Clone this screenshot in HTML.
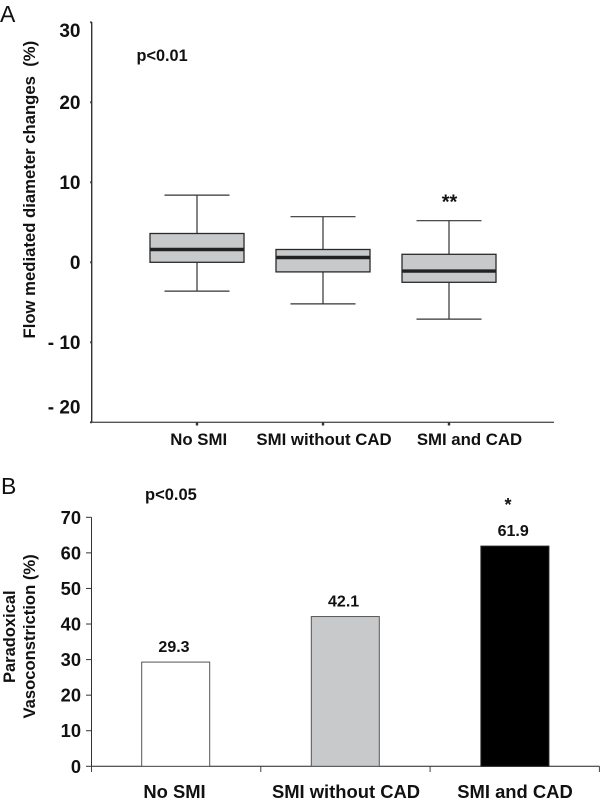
<!DOCTYPE html>
<html>
<head>
<meta charset="utf-8">
<style>
html,body{margin:0;padding:0;background:#fff;}
svg{display:block;}
text{font-family:"Liberation Sans",Arial,sans-serif;fill:#111;}
.b{font-weight:bold;}
</style>
</head>
<body>
<svg id="chart" xmlns="http://www.w3.org/2000/svg" width="600" height="803" viewBox="0 0 600 803"></svg>
<script>
// Panel A data
const boxCategories = ["No SMI", "SMI without CAD", "SMI and CAD"];
const boxWhiskerHigh = [8.4, 5.7, 5.2];
const boxQ3 = [3.6, 1.6, 1.0];
const boxMedian = [1.6, 0.6, -1.1];
const boxQ1 = [0, -1.2, -2.5];
const boxWhiskerLow = [-3.6, -5.2, -7.1];
const boxTicks = [30, 20, 10, 0, -10, -20];
const boxTickLabels = ["30", "20", "10", "0", "- 10", "- 20"];
// Panel B data
const barCategories = ["No SMI", "SMI without CAD", "SMI and CAD"];
const barValues = [29.3, 42.1, 61.9];
const barLabels = ["29.3", "42.1", "61.9"];
const barTicks = [0, 10, 20, 30, 40, 50, 60, 70];

const svg = document.getElementById('chart');
const NS = 'http://www.w3.org/2000/svg';
function add(tag, attrs, text) {
  const el = document.createElementNS(NS, tag);
  for (const k in attrs) el.setAttribute(k, attrs[k]);
  if (text !== undefined) el.textContent = text;
  svg.appendChild(el);
  return el;
}
function line(x1, y1, x2, y2, stroke, w) {
  return add('line', {x1: x1, y1: y1, x2: x2, y2: y2, stroke: stroke, 'stroke-width': w});
}
// Axis functions
const yA = v => 262.3 - v * 8.0;
const xA = i => 197 + i * 126;
const yB = v => 766.3 - v * 3.557;
const xB = i => 175.7 + i * 169.6;

let el;

// Panel letters
el = add('text', {x: 0, y: 22, 'font-size': 23}, 'A');


el = add('text', {x: 1, y: 494, 'font-size': 23}, 'B');



// Panel A axes
el = line(91.7, 22, 91.7, 422.5, '#333', 1.4);


el = line(90, 422.3, 554, 422.3, '#555', 1.4);



boxTicks.forEach((t, i) => {
  const m = line(90.2, yA(t), 91.7, yA(t), '#333', 2);
  
  
  // The outermost labels sit inside the axis range in the reference
  const nudge = t === 30 ? 14.5 : t === -20 ? -9 : 6.8;
  const lab = add('text', {x: 80.5, y: yA(t) + nudge, 'font-size': 19, 'text-anchor': 'end', class: 'b'}, boxTickLabels[i]);
  
  
});

el = add('text', {transform: 'translate(35,338.5) rotate(-90)', 'font-size': 16.7, class: 'b', style: 'white-space:pre'}, 'Flow mediated diameter changes  (%)');



el = add('text', {x: 136.5, y: 61, 'font-size': 16.3, class: 'b'}, 'p<0.01');



const catXA = [198.7, 324, 469.5];
boxCategories.forEach((c, i) => {
  const cx = xA(i);
  const tick = line(cx, 422.3, cx, 425.5, '#333', 2.4);
  
  
  const stem = add('path', {d: 'M' + cx + ' ' + yA(boxWhiskerHigh[i]) + 'V' + yA(boxWhiskerLow[i]), stroke: '#333', 'stroke-width': 1.2, fill: 'none'});
  
  
  const capH = line(cx - 32.5, yA(boxWhiskerHigh[i]), cx + 32.5, yA(boxWhiskerHigh[i]), '#333', 1.2);
  
  
  const capL = line(cx - 32.5, yA(boxWhiskerLow[i]), cx + 32.5, yA(boxWhiskerLow[i]), '#333', 1.2);
  
  
  const rect = add('rect', {x: cx - 47, y: yA(boxQ3[i]), width: 94, height: yA(boxQ1[i]) - yA(boxQ3[i]), fill: '#c8c9cb', stroke: '#2a2a2a', 'stroke-width': 1.3});
  
  
  const med = line(cx - 47, yA(boxMedian[i]), cx + 47, yA(boxMedian[i]), '#222', 3.4);
  
  
  const lab = add('text', {x: catXA[i], y: 445, 'font-size': 16.8, 'text-anchor': 'middle', class: 'b'}, c);
  
  
});

el = add('text', {x: 449.5, y: 208.5, 'font-size': 20, 'text-anchor': 'middle', class: 'b'}, '**');



// Panel B axes
el = line(91.5, 517.3, 91.5, 772, '#333', 1);


el = line(91, 766.3, 599.5, 766.3, '#222', 1);



barTicks.forEach(t => {
  const m = line(86, yB(t), 91.5, yB(t), '#333', 1);
  
  
  const lab = add('text', {x: 81, y: yB(t) + 6.5, 'font-size': 18.3, 'text-anchor': 'end', class: 'b'}, String(t));
  
  
});

[0, 1, 2, 3].forEach(i => {
  const x = 91.5 + i * 169.3;
  const m = line(x, 766.3, x, 772, '#444', 1);
  
  
});

el = add('text', {transform: 'translate(15,683) rotate(-90)', 'font-size': 16.5, class: 'b'}, 'Paradoxical');


el = add('text', {transform: 'translate(35,718.5) rotate(-90)', 'font-size': 16.6, class: 'b'}, 'Vasoconstriction (%)');



el = add('text', {x: 145, y: 500, 'font-size': 16.5, class: 'b'}, 'p<0.05');



const barFills = ['#ffffff', '#c8c9cb', '#000000'];
const catXB = [174.5, 346, 515];
barCategories.forEach((c, i) => {
  const cx = xB(i);
  const r = add('rect', {x: cx - 34, y: yB(barValues[i]), width: 68, height: yB(0) - yB(barValues[i]), fill: barFills[i], stroke: i === 2 ? '#222' : '#555', 'stroke-width': 1});
  
  
  const v = add('text', {x: cx - 1.7, y: yB(barValues[i]) - 10, 'font-size': 16, 'text-anchor': 'middle', class: 'b'}, barLabels[i]);
  
  
  const lab = add('text', {x: catXB[i], y: 798, 'font-size': 18.4, 'text-anchor': 'middle', class: 'b'}, c);
  
  
});

el = add('text', {x: 508, y: 511, 'font-size': 18, 'text-anchor': 'middle', class: 'b'}, '*');


</script>
</body>
</html>
